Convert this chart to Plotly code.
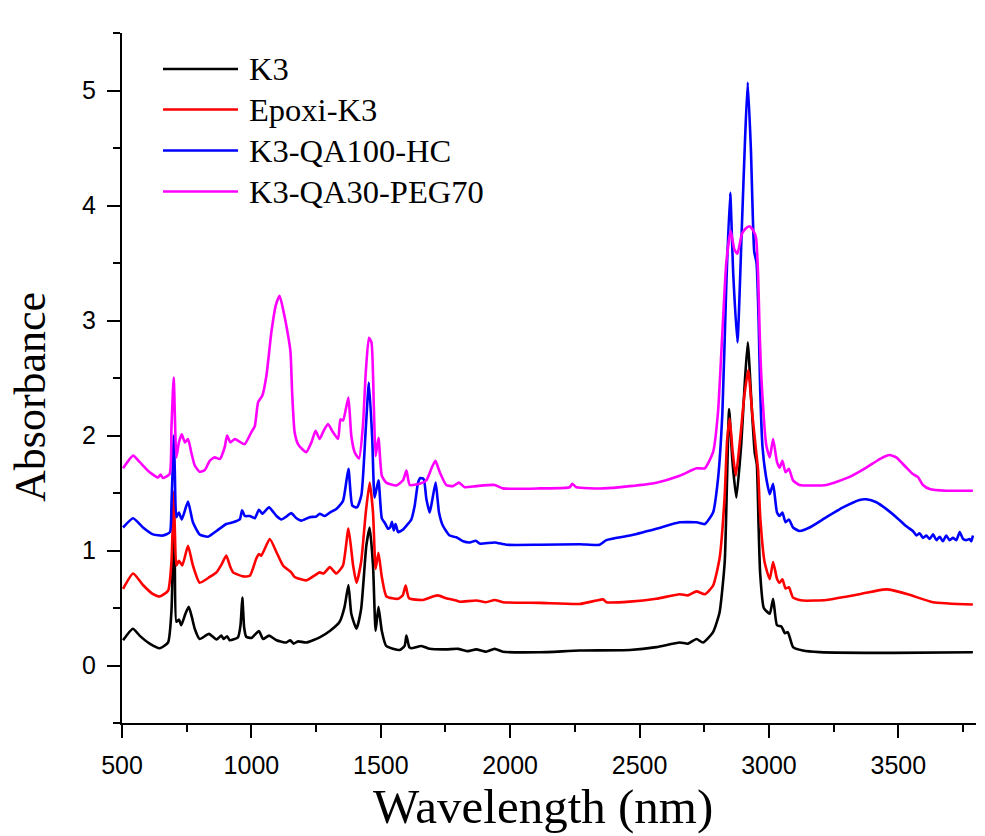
import plotly.graph_objects as go

# (wavelength, absorbance) readings for each sample
k3 = [(504, 0.22), (542, 0.32), (568, 0.26), (607, 0.19), (646, 0.15), (678, 0.20), (691, 0.47),
      (697, 1.0), (700, 1.25), (704, 0.9), (710, 0.38), (720, 0.40), (729, 0.35), (745, 0.45),
      (758, 0.51), (770, 0.42), (781, 0.32), (800, 0.23), (836, 0.275), (865, 0.226), (884, 0.26),
      (893, 0.23), (906, 0.255), (916, 0.22), (948, 0.245), (958, 0.35), (965, 0.59), (972, 0.33),
      (980, 0.25), (1000, 0.24), (1029, 0.30), (1045, 0.23), (1068, 0.26), (1097, 0.22), (1135, 0.20),
      (1150, 0.22), (1163, 0.19), (1180, 0.21), (1212, 0.20), (1264, 0.245), (1303, 0.30), (1341, 0.38),
      (1360, 0.51), (1375, 0.70), (1386, 0.45), (1406, 0.32), (1424, 0.49), (1444, 1.04), (1457, 1.20),
      (1470, 0.87), (1480, 0.30), (1491, 0.51), (1504, 0.30), (1521, 0.17), (1573, 0.135), (1592, 0.17),
      (1599, 0.26), (1610, 0.16), (1618, 0.15), (1657, 0.17), (1689, 0.145), (1753, 0.14), (1798, 0.145),
      (1837, 0.125), (1869, 0.14), (1907, 0.12), (1940, 0.145), (1972, 0.12), (2114, 0.115), (2269, 0.13),
      (2462, 0.135), (2565, 0.16), (2655, 0.20), (2687, 0.19), (2720, 0.23), (2745, 0.20), (2784, 0.29),
      (2809, 0.46), (2829, 0.90), (2838, 1.62), (2846, 2.23), (2859, 1.77), (2874, 1.46), (2893, 1.93),
      (2905, 2.40), (2918, 2.81), (2932, 2.30), (2945, 1.85), (2953, 1.75), (2960, 1.20), (2966, 0.80),
      (2980, 0.50), (3003, 0.45), (3016, 0.58), (3031, 0.35), (3048, 0.34), (3062, 0.28), (3073, 0.29),
      (3093, 0.16), (3131, 0.13), (3196, 0.116), (3479, 0.11), (3788, 0.115)]

epoxi_k3 = [(504, 0.666), (543, 0.80), (581, 0.70), (620, 0.62), (646, 0.60), (678, 0.65), (691, 0.90),
            (697, 1.30), (700, 1.51), (704, 1.2), (710, 0.87), (720, 0.91), (733, 0.87), (755, 1.04),
            (774, 0.87), (800, 0.72), (839, 0.77), (865, 0.81), (885, 0.88), (903, 0.955), (918, 0.86),
            (929, 0.81), (968, 0.775), (994, 0.78), (1019, 0.93), (1029, 0.97), (1038, 0.955), (1071, 1.10),
            (1097, 0.985), (1122, 0.87), (1154, 0.81), (1167, 0.77), (1212, 0.74), (1264, 0.81), (1279, 0.80),
            (1303, 0.855), (1328, 0.80), (1354, 0.87), (1375, 1.19), (1393, 0.87), (1406, 0.72), (1424, 0.90),
            (1442, 1.33), (1457, 1.59), (1470, 1.33), (1480, 0.84), (1491, 0.98), (1504, 0.77), (1522, 0.60),
            (1567, 0.58), (1585, 0.61), (1596, 0.695), (1609, 0.585), (1663, 0.57), (1702, 0.60), (1721, 0.61),
            (1753, 0.585), (1792, 0.565), (1805, 0.555), (1869, 0.565), (1907, 0.55), (1940, 0.57), (1972, 0.55),
            (2114, 0.545), (2269, 0.535), (2333, 0.565), (2359, 0.575), (2372, 0.55), (2462, 0.555), (2565, 0.58),
            (2655, 0.62), (2687, 0.61), (2720, 0.645), (2752, 0.62), (2784, 0.695), (2809, 0.93), (2829, 1.48),
            (2838, 1.95), (2848, 2.15), (2860, 1.85), (2872, 1.65), (2890, 2.0), (2905, 2.35), (2920, 2.57),
            (2935, 2.2), (2950, 1.87), (2958, 1.7), (2966, 1.3), (2983, 0.90), (3003, 0.75), (3016, 0.90),
            (3031, 0.755), (3041, 0.72), (3052, 0.75), (3064, 0.67), (3077, 0.68), (3093, 0.59), (3131, 0.565),
            (3222, 0.57), (3350, 0.62), (3440, 0.66), (3466, 0.66), (3543, 0.615), (3634, 0.55), (3788, 0.53)]

k3_qa100_hc = [(504, 1.20), (543, 1.28), (581, 1.20), (620, 1.14), (658, 1.13), (685, 1.16), (691, 1.39),
               (697, 1.8), (700, 2.0), (704, 1.7), (710, 1.29), (720, 1.33), (731, 1.27), (755, 1.425),
               (774, 1.245), (800, 1.14), (832, 1.12), (865, 1.17), (903, 1.23), (929, 1.245), (955, 1.27),
               (964, 1.35), (975, 1.30), (994, 1.30), (1013, 1.28), (1029, 1.355), (1042, 1.32), (1068, 1.375),
               (1097, 1.30), (1116, 1.27), (1135, 1.295), (1154, 1.325), (1174, 1.28), (1193, 1.26), (1225, 1.29),
               (1251, 1.295), (1264, 1.32), (1283, 1.30), (1303, 1.33), (1328, 1.36), (1354, 1.43), (1375, 1.71),
               (1390, 1.39), (1408, 1.375), (1425, 1.48), (1442, 2.06), (1454, 2.46), (1467, 1.97), (1476, 1.46),
               (1491, 1.61), (1504, 1.28), (1517, 1.235), (1528, 1.19), (1536, 1.20), (1543, 1.25), (1550, 1.175),
               (1557, 1.23), (1567, 1.16), (1585, 1.18), (1599, 1.215), (1618, 1.27), (1631, 1.39), (1644, 1.59),
               (1653, 1.63), (1666, 1.62), (1676, 1.45), (1689, 1.33), (1699, 1.44), (1712, 1.59), (1725, 1.33),
               (1740, 1.215), (1766, 1.13), (1792, 1.115), (1818, 1.08), (1844, 1.07), (1867, 1.085), (1882, 1.06),
               (1940, 1.07), (1985, 1.05), (2114, 1.05), (2269, 1.055), (2346, 1.05), (2372, 1.09), (2462, 1.13),
               (2565, 1.19), (2655, 1.245), (2720, 1.245), (2752, 1.23), (2784, 1.33), (2803, 1.62), (2820, 2.20),
               (2835, 3.3), (2850, 4.11), (2862, 3.4), (2878, 2.81), (2895, 3.8), (2908, 4.6), (2918, 5.07),
               (2930, 4.5), (2943, 3.6), (2952, 3.5), (2960, 3.0), (2966, 2.4), (2975, 1.9), (2988, 1.65),
               (3003, 1.49), (3016, 1.58), (3031, 1.33), (3041, 1.30), (3052, 1.33), (3064, 1.245), (3077, 1.27),
               (3093, 1.20), (3118, 1.17), (3157, 1.20), (3222, 1.29), (3286, 1.375), (3350, 1.44), (3376, 1.445),
               (3415, 1.42), (3454, 1.36), (3492, 1.29), (3531, 1.21), (3556, 1.17), (3570, 1.13), (3582, 1.15),
               (3595, 1.11), (3608, 1.13), (3621, 1.10), (3634, 1.14), (3647, 1.09), (3660, 1.12), (3672, 1.08),
               (3685, 1.13), (3698, 1.09), (3711, 1.11), (3724, 1.09), (3737, 1.16), (3750, 1.10), (3762, 1.09),
               (3775, 1.10), (3782, 1.08), (3788, 1.13)]

k3_qa30_peg70 = [(504, 1.715), (543, 1.825), (568, 1.77), (607, 1.68), (639, 1.635), (649, 1.66), (658, 1.63),
                 (684, 1.665), (691, 2.06), (697, 2.4), (700, 2.505), (704, 2.2), (710, 1.81), (720, 1.94),
                 (731, 2.01), (743, 1.94), (755, 1.97), (768, 1.85), (781, 1.74), (800, 1.685), (820, 1.70),
                 (839, 1.78), (858, 1.81), (878, 1.795), (897, 1.90), (906, 2.0), (919, 1.94), (936, 1.97),
                 (948, 1.955), (974, 1.925), (1000, 2.03), (1013, 2.08), (1026, 2.29), (1042, 2.345), (1058, 2.52),
                 (1077, 2.895), (1094, 3.13), (1109, 3.215), (1125, 3.07), (1141, 2.88), (1151, 2.73), (1158, 2.345),
                 (1167, 2.03), (1180, 1.925), (1197, 1.88), (1212, 1.855), (1232, 1.94), (1248, 2.04), (1264, 1.97),
                 (1279, 2.04), (1296, 2.10), (1315, 2.03), (1335, 1.97), (1344, 2.14), (1354, 2.13), (1365, 2.23),
                 (1375, 2.33), (1386, 2.00), (1399, 1.855), (1416, 1.80), (1431, 2.085), (1442, 2.55), (1454, 2.85),
                 (1464, 2.81), (1473, 2.26), (1480, 1.82), (1491, 1.98), (1504, 1.65), (1521, 1.59), (1560, 1.565),
                 (1586, 1.61), (1599, 1.695), (1612, 1.57), (1650, 1.58), (1676, 1.61), (1696, 1.715), (1711, 1.78),
                 (1728, 1.68), (1753, 1.57), (1779, 1.56), (1802, 1.59), (1824, 1.55), (1869, 1.56), (1940, 1.57),
                 (1972, 1.54), (2114, 1.54), (2230, 1.55), (2240, 1.58), (2256, 1.55), (2359, 1.54), (2462, 1.56),
                 (2565, 1.59), (2655, 1.65), (2720, 1.715), (2752, 1.715), (2784, 1.855), (2803, 2.20), (2820, 2.9),
                 (2835, 3.5), (2852, 3.78), (2866, 3.62), (2878, 3.58), (2895, 3.75), (2910, 3.80), (2925, 3.82),
                 (2940, 3.78), (2950, 3.72), (2958, 3.4), (2964, 2.9), (2971, 2.49), (2990, 1.91), (3003, 1.81),
                 (3016, 1.97), (3031, 1.77), (3041, 1.72), (3052, 1.78), (3064, 1.68), (3077, 1.71), (3093, 1.61),
                 (3118, 1.57), (3222, 1.57), (3312, 1.64), (3376, 1.72), (3428, 1.795), (3466, 1.83), (3492, 1.81),
                 (3531, 1.72), (3556, 1.665), (3575, 1.64), (3595, 1.57), (3621, 1.535), (3685, 1.52), (3788, 1.52)]

series_names = ["K3", "Epoxi-K3", "K3-QA100-HC", "K3-QA30-PEG70"]
series_data = [k3, epoxi_k3, k3_qa100_hc, k3_qa30_peg70]
series_colors = ["#000000", "#FF0000", "#0000FF", "#FF00FF"]

x_ticks = [500, 1000, 1500, 2000, 2500, 3000, 3500]
y_ticks = [0, 1, 2, 3, 4, 5]

SERIF = "Liberation Serif, Times New Roman, serif"
SANS = "Liberation Sans, Arial, sans-serif"

fig = go.Figure()
for name, data, color in zip(series_names, series_data, series_colors):
    xs = [p[0] for p in data]
    ys = [p[1] for p in data]
    fig.add_trace(go.Scatter(x=xs, y=ys, mode="lines", name=name,
                             line=dict(color=color, width=2.6, shape="spline", smoothing=0.5),
                             showlegend=False))

axis_common = dict(
    showline=True, linecolor="black", linewidth=2.2, mirror=False,
    showgrid=False, zeroline=False,
    ticks="outside", ticklen=13, tickwidth=2.2, tickcolor="black",
    tickfont=dict(family=SANS, size=25, color="black"),
)

fig.update_xaxes(range=[500, 3800], tickvals=x_ticks, ticktext=[str(v) for v in x_ticks],
                 minor=dict(ticks="outside", ticklen=7, tickwidth=2.2, tickcolor="black",
                            tick0=500, dtick=250),
                 ticklabelstandoff=6, **axis_common)
fig.update_yaxes(range=[-0.5, 5.5], tickvals=y_ticks, ticktext=[str(v) for v in y_ticks],
                 minor=dict(ticks="outside", ticklen=7, tickwidth=2.2, tickcolor="black",
                            tick0=0, dtick=0.5),
                 ticklabelstandoff=6, **axis_common)

# Hand-drawn legend: line samples plus labels in the upper-left corner
W_PLOT, H_PLOT, L, T = 854, 690, 122, 33
def px_to_paper(px, py):
    return (px - L) / W_PLOT, 1 - (py - T) / H_PLOT

legend_rows = [69, 109.5, 150.5, 191.5]
shapes = []
annotations = []
for name, color, row in zip(series_names, series_colors, legend_rows):
    x0, y0 = px_to_paper(163, row)
    x1, _ = px_to_paper(238, row)
    shapes.append(dict(type="line", xref="paper", yref="paper", x0=x0, x1=x1, y0=y0, y1=y0,
                       line=dict(color=color, width=2.6)))
    tx, _ = px_to_paper(247, row)
    annotations.append(dict(text=name, xref="paper", yref="paper", x=tx, y=y0,
                            xanchor="left", yanchor="middle", showarrow=False,
                            font=dict(family=SERIF, size=32.5, color="black")))

# Axis titles
ax, ay = px_to_paper(30, 397)
annotations.append(dict(text="Absorbance", xref="paper", yref="paper", x=ax, y=ay,
                        textangle=-90, showarrow=False, xanchor="center", yanchor="middle",
                        font=dict(family=SERIF, size=44, color="black")))
bx, by = px_to_paper(543, 806)
annotations.append(dict(text="Wavelength (nm)", xref="paper", yref="paper", x=bx, y=by,
                        showarrow=False, xanchor="center", yanchor="middle",
                        font=dict(family=SERIF, size=49, color="black")))

fig.update_layout(
    width=985, height=836,
    margin=dict(l=122, r=9, t=33, b=113),
    paper_bgcolor="white", plot_bgcolor="white",
    shapes=shapes, annotations=annotations,
)

fig.write_html("out.html")
